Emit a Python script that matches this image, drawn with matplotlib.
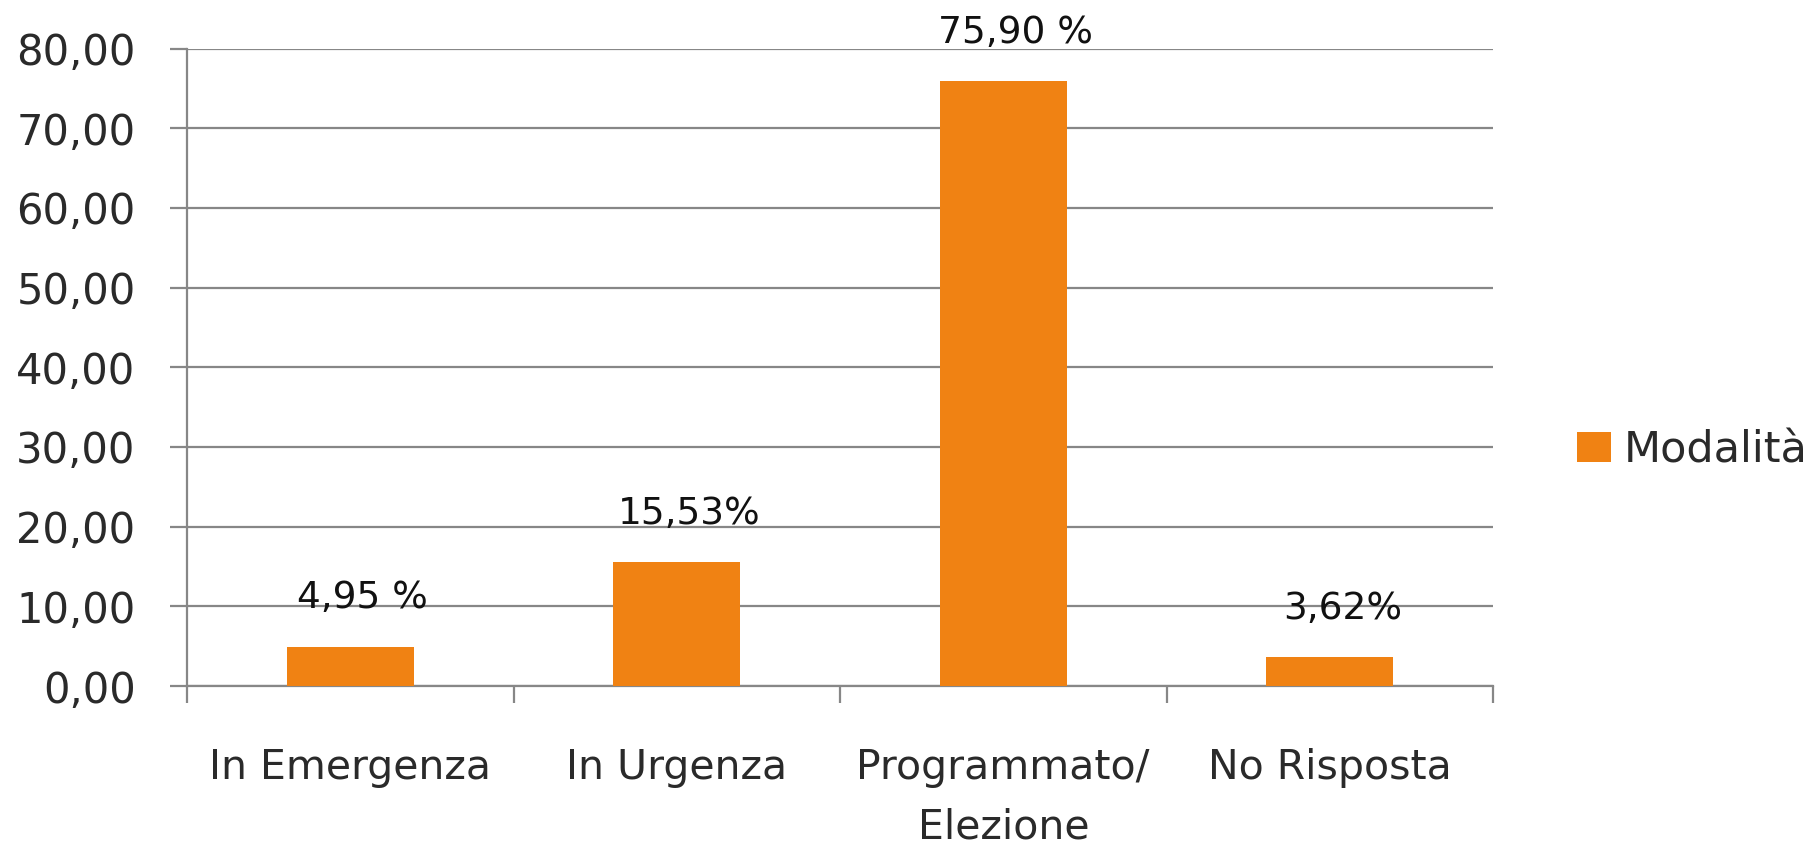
import matplotlib
matplotlib.use("Agg")
import matplotlib.pyplot as plt
from matplotlib.patches import Patch
from matplotlib.ticker import FixedLocator, FuncFormatter

categories = ["In Emergenza", "In Urgenza", "Programmato/\nElezione", "No Risposta"]
values = [4.95, 15.53, 75.90, 3.62]
value_labels = ["4,95 %", "15,53%", "75,90 %", "3,62%"]
y_ticks = [0, 10, 20, 30, 40, 50, 60, 70, 80]
series_name = "Modalità"

BAR = "#F08213"
GRID = "#878787"
TXT = "#2a2a2a"

plt.rcParams['font.family'] = ['DejaVu Sans']

fig = plt.figure(figsize=(18.14, 8.46), dpi=100)
ax = fig.add_axes([187/1814, 1-686/846, (1493-187)/1814, (686-48.6)/846])

x = list(range(len(categories)))
ax.bar(x, values, width=0.39, color=BAR, zorder=3)

ax.set_xlim(-0.5, len(categories) - 0.5)
ax.set_ylim(0, 80)
ax.yaxis.set_major_locator(FixedLocator(y_ticks))
ax.yaxis.set_major_formatter(FuncFormatter(lambda v, p: f"{v:.2f}".replace(".", ",")))
ax.grid(axis="y", color=GRID, linewidth=1.6, zorder=0)
ax.tick_params(axis="y", length=12, width=1.6, color=GRID, pad=25, labelsize=30, labelcolor=TXT)

ax.set_xticks(x)
ax.set_xticklabels(categories, fontsize=29.5, color=TXT, linespacing=1.6)
ax.set_xticks([i - 0.5 for i in range(len(categories) + 1)], minor=True)
ax.tick_params(axis="x", which="major", length=0, pad=45)
ax.tick_params(axis="x", which="minor", length=12, width=1.6, color=GRID)

for s in ["top", "right"]:
    ax.spines[s].set_visible(False)
for s in ["left", "bottom"]:
    ax.spines[s].set_color(GRID)
    ax.spines[s].set_linewidth(1.6)

for xi, v, lab in zip(x, values, value_labels):
    ax.annotate(lab, (xi, v), xytext=(9, 35), textcoords="offset points",
                ha="center", va="center", fontsize=27, color="#111111", zorder=4)

handles = [Patch(facecolor=BAR, edgecolor="none", label=series_name)]
fig.legend(handles=handles, loc="center left", bbox_to_anchor=(0.860, 0.468),
           borderaxespad=0, frameon=False, fontsize=31, handlelength=0.78,
           handleheight=0.7, handletextpad=0.3, labelcolor=TXT)

fig.savefig("out.png", dpi=100, facecolor="white")
